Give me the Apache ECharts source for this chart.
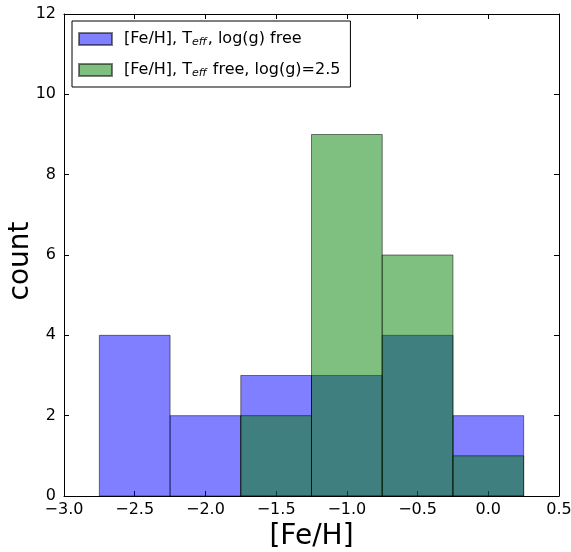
<!DOCTYPE html>
<html>
<head>
<meta charset="utf-8">
<script src="https://cdn.jsdelivr.net/npm/echarts@6/dist/echarts.min.js"></script>
<style>
  html, body { margin: 0; padding: 0; background: #fff; }
  #chart { width: 571px; height: 552px; }
</style>
</head>
<body>
<div id="chart"></div>
<script>
// Histogram bin edges in [Fe/H]
const binEdges = [-2.75, -2.25, -1.75, -1.25, -0.75, -0.25, 0.25];
// Counts per bin: all three parameters free
const countsFree = [4, 2, 3, 3, 4, 2];
// Counts per bin: log(g) fixed at 2.5
const countsFixedLogg = [0, 0, 2, 9, 6, 1];
// Axis ranges and tick spacing
const xRange = [-3.0, 0.5];
const xStep = 0.5;
const yRange = [0, 12];
const yStep = 2;

const seriesNames = ['[Fe/H], Teff, log(g) free', '[Fe/H], Teff free, log(g)=2.5'];
const legendRich = [
  '{p|}{a|[Fe/H], T}{s|eff}{a|, log(g) free}',
  '{p|}{a|[Fe/H], T}{s|eff}{a| free, log(g)=2.5}'
];

const FONT = 'DejaVu Sans';

function toBins(counts) {
  const out = [];
  counts.forEach((c, i) => {
    if (c > 0) out.push([binEdges[i], binEdges[i + 1], c]);
  });
  return out;
}

function renderBin(params, api) {
  const x0 = api.value(0), x1 = api.value(1), c = api.value(2);
  const p0 = api.coord([x0, c]);
  const p1 = api.coord([x1, 0]);
  return {
    type: 'rect',
    shape: { x: p0[0], y: p0[1], width: p1[0] - p0[0], height: p1[1] - p0[1] },
    style: api.style()
  };
}

const tickFmt = v => v.toFixed(1).replace('-', '\u2212');

const axisCommon = {
  axisLine: { show: true, onZero: false, lineStyle: { color: '#000', width: 1 } },
  axisTick: { show: true, inside: true, length: 5, lineStyle: { color: '#000' } },
  splitLine: { show: false }
};

const chart = echarts.init(document.getElementById('chart'), null, { renderer: 'canvas' });

chart.setOption({
  animation: false,
  backgroundColor: '#fff',
  textStyle: { fontFamily: FONT },
  grid: { left: 64, right: 12, top: 14, bottom: 56, containLabel: false, outerBoundsMode: 'none' },
  legend: {
    orient: 'vertical',
    left: 72,
    top: 21,
    padding: [9, 10, 8, 6],
    itemGap: 13,
    itemWidth: 33,
    itemHeight: 12,
    borderColor: '#000',
    borderWidth: 1,
    backgroundColor: '#fff',
    icon: 'rect',
    data: seriesNames,
    formatter: name => legendRich[seriesNames.indexOf(name)],
    textStyle: {
      color: '#000',
      fontFamily: FONT,
      fontSize: 16,
      rich: {
        p: { width: 7 },
        a: { fontFamily: FONT, fontSize: 16, color: '#000', lineHeight: 18 },
        s: { fontFamily: FONT, fontSize: 11, fontStyle: 'italic', color: '#000', lineHeight: 18, padding: [7, 1, 0, 0] }
      }
    }
  },
  xAxis: [
    Object.assign({
      type: 'value', position: 'bottom', min: xRange[0], max: xRange[1], interval: xStep,
      name: '[Fe/H]', nameLocation: 'middle', nameGap: 27, nameMoveOverlap: false,
      nameTextStyle: { fontFamily: FONT, fontSize: 28, color: '#000' },
      axisLabel: { show: true, margin: 6, fontFamily: FONT, fontSize: 16, color: '#000', formatter: tickFmt }
    }, axisCommon),
    Object.assign({
      type: 'value', position: 'top', min: xRange[0], max: xRange[1], interval: xStep,
      axisLabel: { show: false }
    }, axisCommon)
  ],
  yAxis: [
    Object.assign({
      type: 'value', position: 'left', min: yRange[0], max: yRange[1], interval: yStep,
      name: 'count', nameLocation: 'middle', nameGap: 29, nameMoveOverlap: false,
      nameTextStyle: { fontFamily: FONT, fontSize: 28, color: '#000', padding: [0, 12, 0, 0] },
      axisLabel: { show: true, margin: 8, fontFamily: FONT, fontSize: 16, color: '#000' }
    }, axisCommon),
    Object.assign({
      type: 'value', position: 'right', min: yRange[0], max: yRange[1], interval: yStep,
      axisLabel: { show: false }
    }, axisCommon)
  ],
  series: [
    {
      name: seriesNames[0],
      type: 'custom',
      renderItem: renderBin,
      xAxisIndex: 0, yAxisIndex: 0,
      encode: { x: [0, 1], y: 2 },
      itemStyle: { color: 'rgba(0,0,255,0.5)', borderColor: 'rgba(0,0,0,0.5)', borderWidth: 1 },
      data: toBins(countsFree),
      z: 2
    },
    {
      name: seriesNames[1],
      type: 'custom',
      renderItem: renderBin,
      xAxisIndex: 0, yAxisIndex: 0,
      encode: { x: [0, 1], y: 2 },
      itemStyle: { color: 'rgba(0,128,0,0.5)', borderColor: 'rgba(0,0,0,0.5)', borderWidth: 1 },
      data: toBins(countsFixedLogg),
      z: 3
    }
  ]
});
</script>
</body>
</html>
